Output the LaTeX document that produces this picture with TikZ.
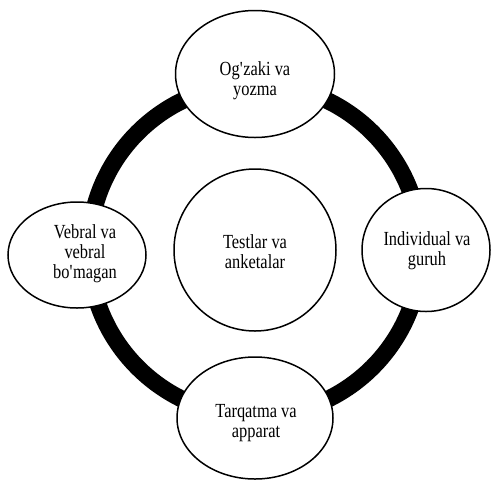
\documentclass[tikz,border=0pt]{standalone}
\usepackage{fontspec}
\setmainfont{Liberation Serif}[FakeStretch=0.82]
\usetikzlibrary{shapes.geometric}
\tikzset{
  bubble/.style={ellipse, draw=black, line width=1.5pt, fill=white, inner sep=0pt},
  lbl/.style={align=center, inner sep=0pt, font=\fontsize{20}{20}\selectfont},
  ringline/.style={line width=17pt, draw=black}
}
\begin{document}
\begin{tikzpicture}[x=1pt,y=-1pt]
\useasboundingbox (0,0) rectangle (492,480);
\coordinate (c) at (255,250);
\draw[ringline] (c) circle[radius=166pt];
\node[bubble, minimum width=162pt, minimum height=162pt] (center) at (255,250) {};
\node[bubble, minimum width=159pt, minimum height=127pt] (top) at (255,74) {};
\node[bubble, minimum width=128pt, minimum height=123pt] (right) at (426,250) {};
\node[bubble, minimum width=138pt, minimum height=106pt] (left) at (77,255) {};
\node[bubble, minimum width=156pt, minimum height=122pt] (bottom) at (255,418) {};
\node[lbl] (centertext) at (255,252) {Testlar va\\anketalar};
\node[lbl] (toptext) at (255,81) {Og\textquotesingle zaki va\\yozma};
\node[lbl] (righttext) at (427,251) {Individual va\\guruh};
\node[lbl] (lefttext) at (85,254) {Vebral va\\vebral\\bo\textquotesingle magan};
\node[lbl] (bottomtext) at (256,423) {Tarqatma va\\apparat};
\end{tikzpicture}
\end{document}
